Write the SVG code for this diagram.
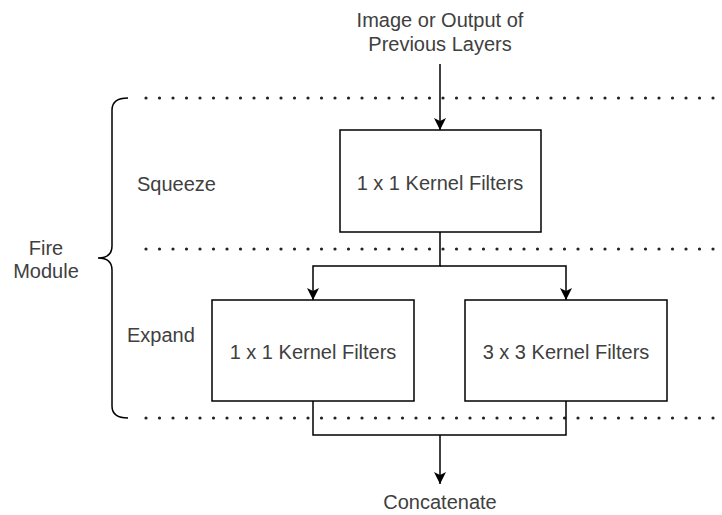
<svg xmlns="http://www.w3.org/2000/svg" width="722" height="515" viewBox="0 0 722 515">
<defs>
<marker id="arr" markerWidth="12" markerHeight="12" refX="10" refY="5" orient="auto" markerUnits="userSpaceOnUse" viewBox="0 0 10 10">
<path d="M0,0 L10,5 L0,10 L2.5,5 Z" fill="#000"/>
</marker>
</defs>
<style>
text{font-family:"Liberation Sans",Arial,sans-serif;font-size:20px;fill:#404040;}
.c{text-anchor:middle;}
.box{fill:#fff;stroke:#000;stroke-width:1.5;}
.ln{fill:none;stroke:#000;stroke-width:1.5;}
.dot{fill:none;stroke:#222;stroke-width:3.2;stroke-linecap:round;stroke-dasharray:0 13.5;}
</style>
<rect width="722" height="515" fill="#fff"/>
<g id="separators">
<line class="dot" x1="146" y1="98" x2="714" y2="98"/>
<line class="dot" x1="146" y1="249" x2="714" y2="249"/>
<line class="dot" x1="146" y1="418" x2="714" y2="418"/>
</g>
<g id="brace">
<path class="ln" d="M128,98 Q112,98 112,110 L112,246 Q112,258 98,258 Q112,258 112,270 L112,406 Q112,418 128,418"/>
</g>
<g id="labels">
<text class="c" x="440" y="27">Image or Output of</text>
<text class="c" x="440" y="51">Previous Layers</text>
<text x="137" y="191">Squeeze</text>
<text x="127" y="342">Expand</text>
<text class="c" x="46" y="255">Fire</text>
<text class="c" x="46" y="278">Module</text>
<text class="c" x="440" y="509">Concatenate</text>
</g>
<g id="connectors">
<line class="ln" x1="440" y1="64" x2="440" y2="130" marker-end="url(#arr)"/>
<polyline class="ln" points="440,232 440,266 313,266 313,300" marker-end="url(#arr)"/>
<polyline class="ln" points="440,266 566,266 566,300" marker-end="url(#arr)"/>
<polyline class="ln" points="313,401 313,435 566,435 566,401"/>
<line class="ln" x1="440" y1="435" x2="440" y2="484" marker-end="url(#arr)"/>
</g>
<g id="squeeze-filters">
<rect class="box" x="340" y="130" width="201" height="102"/>
<text class="c" x="440" y="190">1 x 1 Kernel Filters</text>
</g>
<g id="expand-1x1">
<rect class="box" x="212" y="300" width="202" height="101"/>
<text class="c" x="313" y="359">1 x 1 Kernel Filters</text>
</g>
<g id="expand-3x3">
<rect class="box" x="465" y="300" width="202" height="101"/>
<text class="c" x="566" y="359">3 x 3 Kernel Filters</text>
</g>
</svg>
